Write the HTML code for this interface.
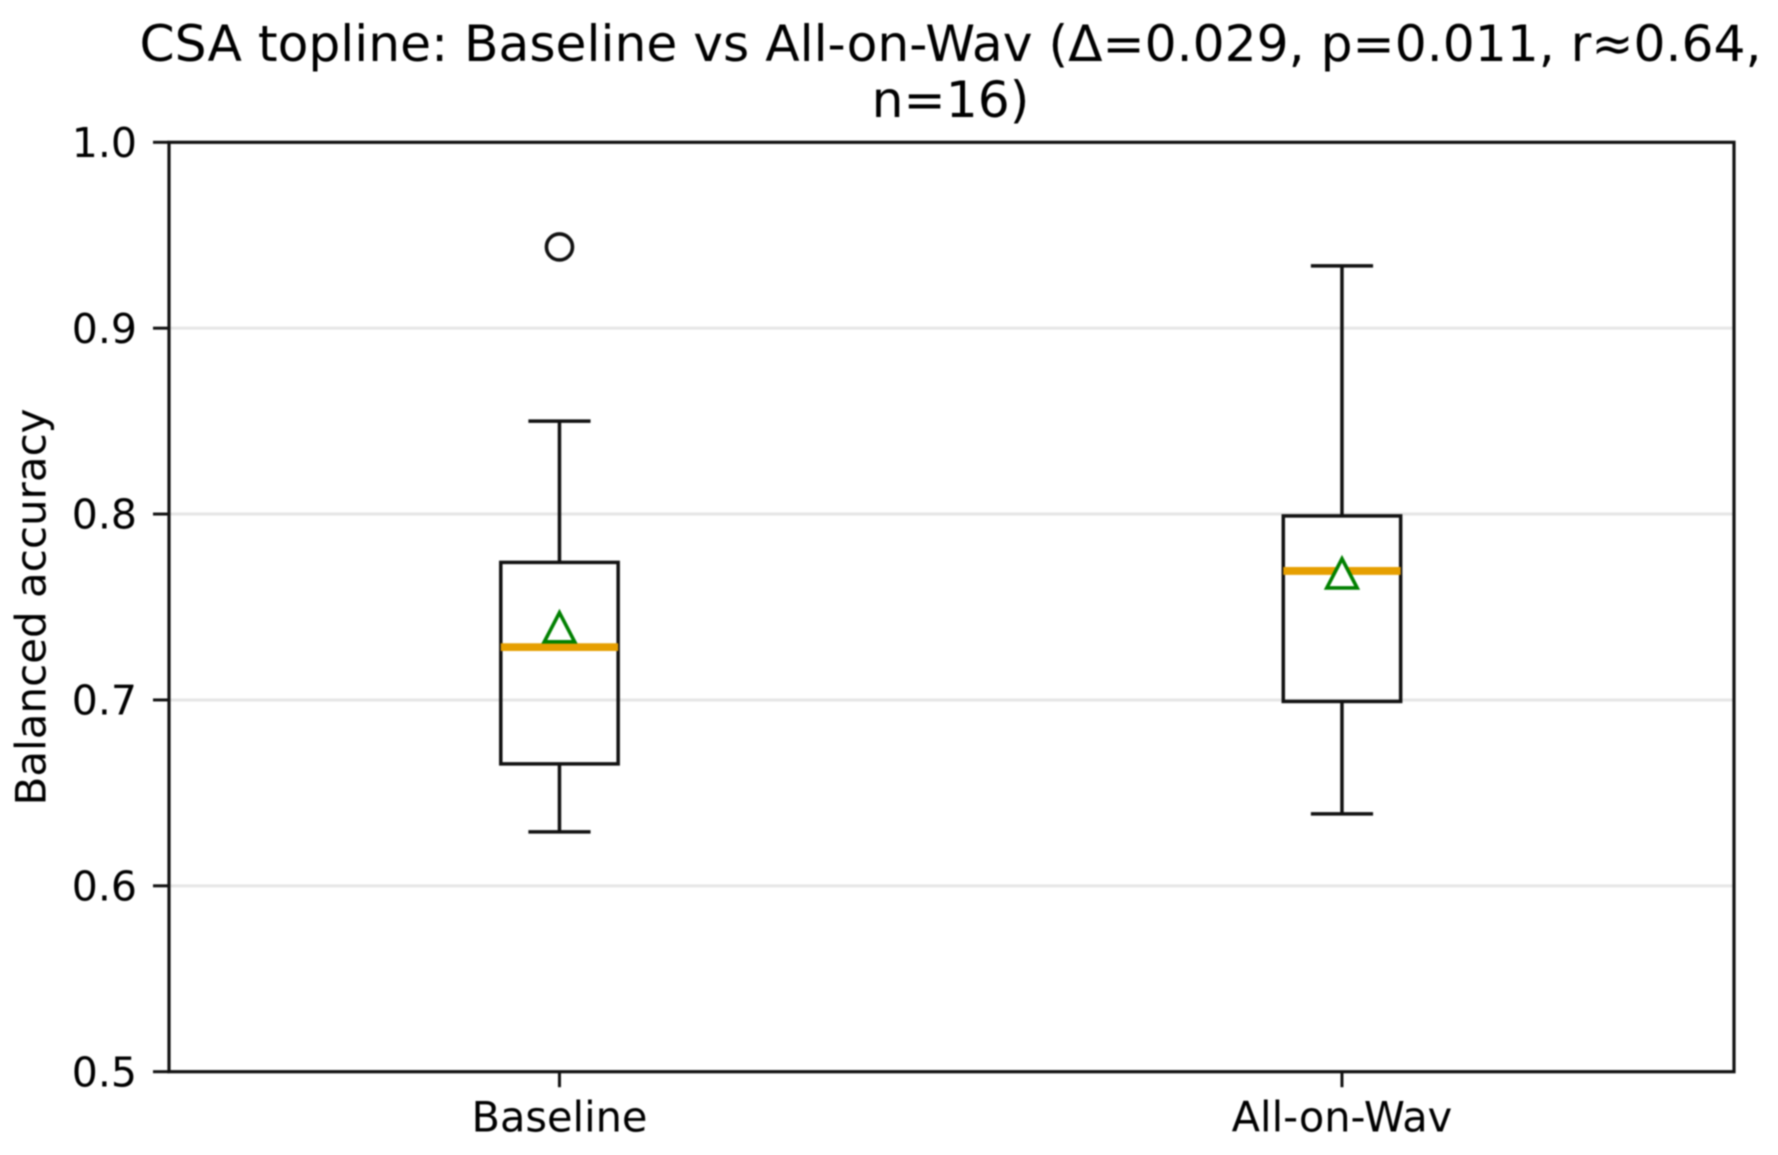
<!DOCTYPE html>
<html lang="en">
<head>
<meta charset="utf-8">
<title>CSA topline box plot</title>
<style>
  html, body { margin: 0; padding: 0; background: #ffffff; }
  body { width: 1778px; height: 1155px; overflow: hidden; }
  svg { display: block; filter: blur(0.8px); }
  text { font-family: "DejaVu Sans", "Liberation Sans", sans-serif; fill: #000; }
</style>
</head>
<body>
<svg id="chart" xmlns="http://www.w3.org/2000/svg" width="1778" height="1155" viewBox="0 0 1778 1155">
  <rect x="0" y="0" width="1778" height="1155" fill="#ffffff"></rect>
  <g id="grid"></g>
  <g id="boxes"></g>
  <g id="axes"></g>
  <g id="chart-title">
    <text x="950.5" y="61" font-size="50.3" text-anchor="middle">CSA topline: Baseline vs All-on-Wav (Δ=0.029, p=0.011, r≈0.64,</text>
    <text x="950.5" y="117" font-size="50.3" text-anchor="middle">n=16)</text>
  </g>
  <text transform="translate(45.7 607) rotate(-90)" font-size="42" text-anchor="middle">Balanced accuracy</text>
</svg>
<script>
const categories = ['Baseline', 'All-on-Wav'];
const q1Values = [0.6656, 0.6992];
const medianValues = [0.7284, 0.7694];
const q3Values = [0.774, 0.799];
const whiskerLowValues = [0.629, 0.6387];
const whiskerHighValues = [0.85, 0.9335];
const meanValues = [0.7391, 0.7681];
const outlierValues = [[0.9437], []];
const yTickValues = [0.5, 0.6, 0.7, 0.8, 0.9, 1.0];
const yTickLabels = ['0.5', '0.6', '0.7', '0.8', '0.9', '1.0'];

const plotLeft = 169, plotRight = 1734, plotTop = 142.3, plotBottom = 1071.7;
const yMin = 0.5, yMax = 1.0, xMin = 0.501, xMax = 2.501;
const boxWidth = 0.15, capWidth = 0.075;

function xScale(v) { return plotLeft + (v - xMin) / (xMax - xMin) * (plotRight - plotLeft); }
function yScale(v) { return plotBottom - (v - yMin) / (yMax - yMin) * (plotBottom - plotTop); }

const NS = 'http://www.w3.org/2000/svg';
function lineEl(parent, x1, y1, x2, y2, stroke, width, cap) {
  const el = document.createElementNS(NS, 'line');
  el.setAttribute('x1', x1);
  el.setAttribute('y1', y1);
  el.setAttribute('x2', x2);
  el.setAttribute('y2', y2);
  el.setAttribute('stroke', stroke);
  el.setAttribute('stroke-width', width);
  el.setAttribute('stroke-linecap', cap || 'butt');
  parent.appendChild(el);
  return el;
}
function textEl(parent, x, y, str, anchor, size) {
  const el = document.createElementNS(NS, 'text');
  el.setAttribute('x', x);
  el.setAttribute('y', y);
  el.setAttribute('font-size', size);
  el.setAttribute('text-anchor', anchor);
  el.textContent = str;
  parent.appendChild(el);
  return el;
}

const gridG = document.getElementById('grid');
const boxesG = document.getElementById('boxes');
const axesG = document.getElementById('axes');

yTickValues.forEach(function (v, i) {
  const y = yScale(v);
  const gridLine = lineEl(gridG, plotLeft, y, plotRight, y, '#e6e6e6', 3);
  
  
  const tick = lineEl(axesG, plotLeft - 16, y, plotLeft, y, '#111', 3);
  
  
  const label = textEl(axesG, 137, y + 14.6, yTickLabels[i], 'end', '41');
  
  
});

categories.forEach(function (name, i) {
  const pos = i + 1;
  const cx = xScale(pos);
  const boxL = xScale(pos - boxWidth / 2);
  const boxR = xScale(pos + boxWidth / 2);
  const capL = xScale(pos - capWidth / 2);
  const capR = xScale(pos + capWidth / 2);
  const yQ1 = yScale(q1Values[i]);
  const yQ3 = yScale(q3Values[i]);
  const yMed = yScale(medianValues[i]);
  const yLow = yScale(whiskerLowValues[i]);
  const yHigh = yScale(whiskerHighValues[i]);
  const yMean = yScale(meanValues[i]);

  const whiskerUp = lineEl(boxesG, cx, yQ3, cx, yHigh, '#111', 3.5);
  
  
  const whiskerDown = lineEl(boxesG, cx, yQ1, cx, yLow, '#111', 3.5);
  
  
  const capUp = lineEl(boxesG, capL, yHigh, capR, yHigh, '#111', 3.5, 'square');
  
  
  const capDown = lineEl(boxesG, capL, yLow, capR, yLow, '#111', 3.5, 'square');
  
  

  const box = document.createElementNS(NS, 'rect');
  box.setAttribute('x', boxL);
  box.setAttribute('y', yQ3);
  box.setAttribute('width', boxR - boxL);
  box.setAttribute('height', yQ1 - yQ3);
  box.setAttribute('fill', 'none');
  box.setAttribute('stroke', '#111');
  box.setAttribute('stroke-width', '3.5');
  
  
  boxesG.appendChild(box);

  const median = lineEl(boxesG, boxL, yMed, boxR, yMed, '#e69f00', 7.8);
  
  

  const mean = document.createElementNS(NS, 'polygon');
  const mx = 15.2, my = 14.6;
  mean.setAttribute('points', cx + ',' + (yMean - my) + ' ' + (cx + mx) + ',' + (yMean + my) + ' ' + (cx - mx) + ',' + (yMean + my));
  mean.setAttribute('fill', '#ffffff');
  mean.setAttribute('stroke', '#008000');
  mean.setAttribute('stroke-width', '3.6');
  
  
  boxesG.appendChild(mean);

  outlierValues[i].forEach(function (v) {
    const flier = document.createElementNS(NS, 'circle');
    flier.setAttribute('cx', cx);
    flier.setAttribute('cy', yScale(v));
    flier.setAttribute('r', '13');
    flier.setAttribute('fill', 'none');
    flier.setAttribute('stroke', '#111');
    flier.setAttribute('stroke-width', '3.6');
    
    
    boxesG.appendChild(flier);
  });

  const tick = lineEl(axesG, cx, plotBottom, cx, plotBottom + 15.5, '#111', 3);
  
  
  const label = textEl(axesG, cx, 1131.7, name, 'middle', '41.5');
  
  
});

const frame = document.createElementNS(NS, 'rect');
frame.setAttribute('x', plotLeft);
frame.setAttribute('y', plotTop);
frame.setAttribute('width', plotRight - plotLeft);
frame.setAttribute('height', plotBottom - plotTop);
frame.setAttribute('fill', 'none');
frame.setAttribute('stroke', '#111');
frame.setAttribute('stroke-width', '3.2');


axesG.appendChild(frame);
</script>
</body>
</html>
